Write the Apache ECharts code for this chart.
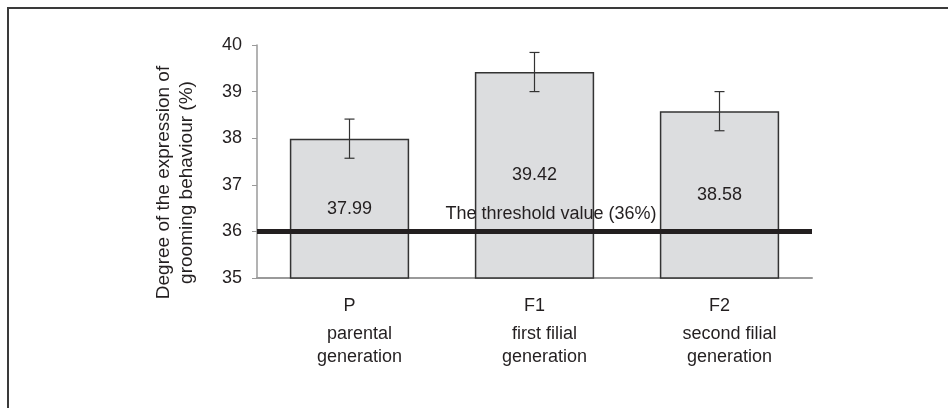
<!DOCTYPE html>
<html>
<head>
<meta charset="utf-8">
<script src="https://cdn.jsdelivr.net/npm/echarts@6/dist/echarts.min.js"></script>
<style>
html,body{margin:0;padding:0;background:#fff;}
#c{width:948px;height:408px;}
</style>
</head>
<body>
<div id="c"></div>
<script>
var categoryCodes = ['P', 'F1', 'F2'];
var categoryNames = ['parental\ngeneration', 'first filial\ngeneration', 'second filial\ngeneration'];
var meanValues = [37.99, 39.42, 38.58];
var errorValues = [0.42, 0.42, 0.42];
var yTicks = [35, 36, 37, 38, 39, 40];
var thresholdValue = 36;
var thresholdLabel = 'The threshold value (36%)';
var yAxisTitle = 'Degree of the expression of\ngrooming behaviour (%)';

var FONT = '"Liberation Sans", Arial, Helvetica, sans-serif';

var xLabels = categoryCodes.map(function (c, i) {
  var lines = categoryNames[i].split('\n').map(function (l) { return '{b|' + l + '}'; });
  return '{a|' + c + '}\n' + lines.join('\n');
});

var errorData = meanValues.map(function (v, i) { return [i, v - errorValues[i], v + errorValues[i]]; });

var chart = echarts.init(document.getElementById('c'));
chart.setOption({
  animation: false,
  backgroundColor: '#fff',
  textStyle: { fontFamily: FONT },
  grid: { left: 257, right: 136, top: 45, bottom: 130 },
  graphic: [{
    type: 'polyline',
    shape: { points: [[8, 408], [8, 8], [948, 8]] },
    style: { stroke: '#3a3a3a', lineWidth: 2, fill: null },
    silent: true
  }],
  xAxis: {
    type: 'category',
    data: xLabels,
    axisLine: { lineStyle: { color: '#9a9a9a', width: 2 } },
    axisTick: { show: false },
    axisLabel: {
      margin: 12,
      interval: 0,
      color: '#231f20',
      fontFamily: FONT,
      rich: {
        a: { fontSize: 18, lineHeight: 33, align: 'center', color: '#231f20', fontFamily: FONT },
        b: { fontSize: 18, lineHeight: 23, align: 'center', padding: [0, 0, 0, 20], color: '#231f20', fontFamily: FONT }
      }
    },
    splitLine: { show: false }
  },
  yAxis: {
    type: 'value',
    min: yTicks[0],
    max: yTicks[yTicks.length - 1],
    interval: 1,
    name: yAxisTitle,
    nameLocation: 'middle',
    nameGap: 59,
    nameTextStyle: { fontSize: 19, color: '#231f20', lineHeight: 23, fontFamily: FONT, padding: [0, 42, 0, 0] },
    axisLine: { show: true, lineStyle: { color: '#9a9a9a', width: 1.5 } },
    axisTick: { show: true, length: 5, lineStyle: { color: '#9a9a9a' } },
    axisLabel: { margin: 15, fontSize: 18, color: '#231f20', fontFamily: FONT },
    splitLine: { show: false }
  },
  series: [{
    type: 'bar',
    data: meanValues,
    barWidth: '64.5%',
    itemStyle: { color: '#dcdddf', borderColor: '#333', borderWidth: 1.5 },
    label: {
      show: true,
      position: 'inside',
      fontSize: 18,
      color: '#231f20',
      fontFamily: FONT,
      formatter: function (p) { return p.value.toFixed(2); }
    },
    markLine: {
      silent: true,
      symbol: ['none', 'none'],
      z: 10,
      data: [{ yAxis: thresholdValue }],
      lineStyle: { color: '#231f20', width: 5, type: 'solid' },
      label: {
        show: true,
        position: 'insideMiddleTop',
        distance: 8,
        padding: [0, 0, 0, 33],
        formatter: thresholdLabel,
        fontSize: 18,
        color: '#231f20',
        fontFamily: FONT
      },
      emphasis: { disabled: true }
    }
  }, {
    type: 'custom',
    data: errorData,
    z: 5,
    renderItem: function (params, api) {
      var x = api.value(0);
      var lo = api.coord([x, api.value(1)]);
      var hi = api.coord([x, api.value(2)]);
      var hw = 5;
      var st = { stroke: '#333', lineWidth: 1.2 };
      return {
        type: 'group',
        children: [
          { type: 'line', shape: { x1: hi[0], y1: hi[1], x2: lo[0], y2: lo[1] }, style: st },
          { type: 'line', shape: { x1: hi[0] - hw, y1: hi[1], x2: hi[0] + hw, y2: hi[1] }, style: st },
          { type: 'line', shape: { x1: lo[0] - hw, y1: lo[1], x2: lo[0] + hw, y2: lo[1] }, style: st }
        ]
      };
    }
  }]
});
</script>
</body>
</html>
